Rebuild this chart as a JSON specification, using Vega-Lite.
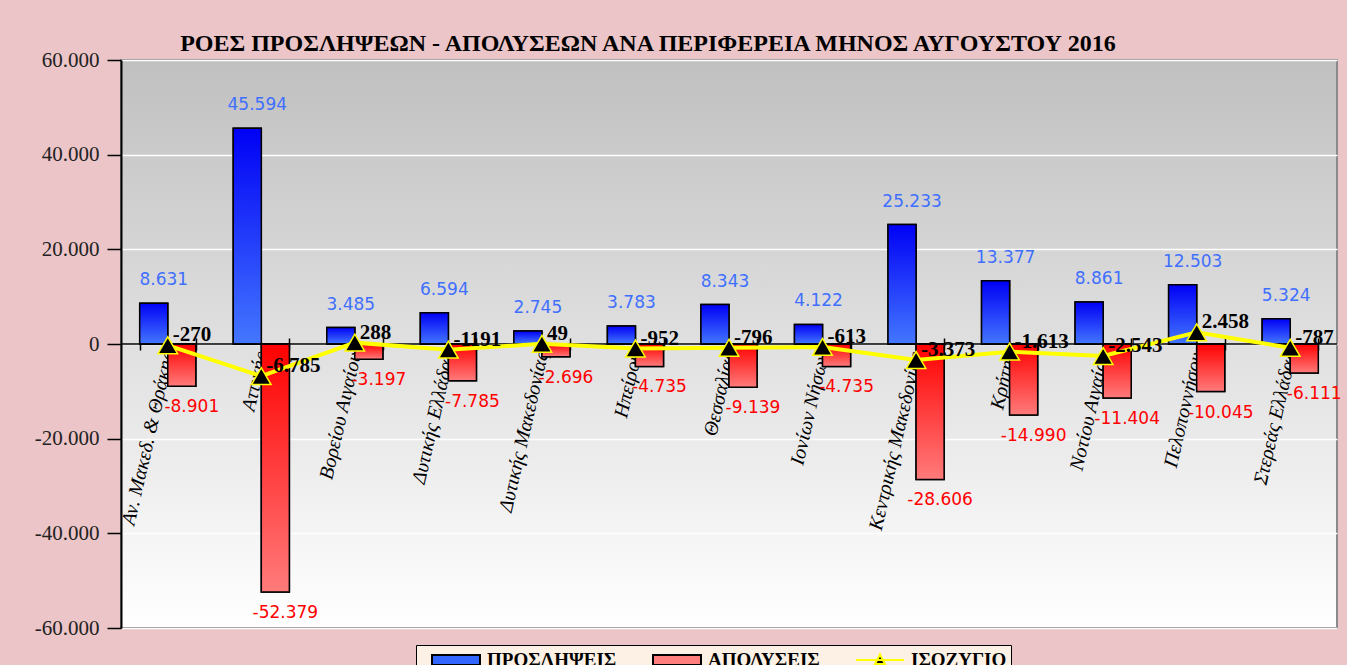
{
  "$schema": "https://vega.github.io/schema/vega-lite/v6.json",
  "width": 1216,
  "height": 568,
  "autosize": {"type": "none"},
  "padding": {"left": 121, "top": 60, "right": 10, "bottom": 37},
  "background": "#ebc5c7",
  "title": {
    "text": "ΡΟΕΣ ΠΡΟΣΛΗΨΕΩΝ - ΑΠΟΛΥΣΕΩΝ ΑΝΑ ΠΕΡΙΦΕΡΕΙΑ ΜΗΝΟΣ  ΑΥΓΟΥΣΤΟΥ  2016",
    "anchor": "middle",
    "frame": "group",
    "dx": -81,
    "offset": -7,
    "font": "Liberation Serif",
    "fontSize": 24,
    "fontWeight": "bold",
    "color": "black"
  },
  "data": {
    "values": [
      {"region": "Αν. Μακεδ. & Θράκης", "ΠΡΟΣΛΗΨΕΙΣ": 8631, "ΑΠΟΛΥΣΕΙΣ": -8901, "ΙΣΟΖΥΓΙΟ": -270, "balanceText": "-270"},
      {"region": "Αττικής", "ΠΡΟΣΛΗΨΕΙΣ": 45594, "ΑΠΟΛΥΣΕΙΣ": -52379, "ΙΣΟΖΥΓΙΟ": -6785, "balanceText": "-6.785"},
      {"region": "Βορείου Αιγαίου", "ΠΡΟΣΛΗΨΕΙΣ": 3485, "ΑΠΟΛΥΣΕΙΣ": -3197, "ΙΣΟΖΥΓΙΟ": 288, "balanceText": "288"},
      {"region": "Δυτικής Ελλάδας", "ΠΡΟΣΛΗΨΕΙΣ": 6594, "ΑΠΟΛΥΣΕΙΣ": -7785, "ΙΣΟΖΥΓΙΟ": -1191, "balanceText": "-1191"},
      {"region": "Δυτικής Μακεδονίας", "ΠΡΟΣΛΗΨΕΙΣ": 2745, "ΑΠΟΛΥΣΕΙΣ": -2696, "ΙΣΟΖΥΓΙΟ": 49, "balanceText": "49"},
      {"region": "Ηπείρου", "ΠΡΟΣΛΗΨΕΙΣ": 3783, "ΑΠΟΛΥΣΕΙΣ": -4735, "ΙΣΟΖΥΓΙΟ": -952, "balanceText": "-952"},
      {"region": "Θεσσαλίας", "ΠΡΟΣΛΗΨΕΙΣ": 8343, "ΑΠΟΛΥΣΕΙΣ": -9139, "ΙΣΟΖΥΓΙΟ": -796, "balanceText": "-796"},
      {"region": "Ιονίων Νήσων", "ΠΡΟΣΛΗΨΕΙΣ": 4122, "ΑΠΟΛΥΣΕΙΣ": -4735, "ΙΣΟΖΥΓΙΟ": -613, "balanceText": "-613"},
      {"region": "Κεντρικής Μακεδονίας", "ΠΡΟΣΛΗΨΕΙΣ": 25233, "ΑΠΟΛΥΣΕΙΣ": -28606, "ΙΣΟΖΥΓΙΟ": -3373, "balanceText": "-3.373"},
      {"region": "Κρήτης", "ΠΡΟΣΛΗΨΕΙΣ": 13377, "ΑΠΟΛΥΣΕΙΣ": -14990, "ΙΣΟΖΥΓΙΟ": -1613, "balanceText": "-1.613"},
      {"region": "Νοτίου Αιγαίου", "ΠΡΟΣΛΗΨΕΙΣ": 8861, "ΑΠΟΛΥΣΕΙΣ": -11404, "ΙΣΟΖΥΓΙΟ": -2543, "balanceText": "-2.543"},
      {"region": "Πελοποννήσου", "ΠΡΟΣΛΗΨΕΙΣ": 12503, "ΑΠΟΛΥΣΕΙΣ": -10045, "ΙΣΟΖΥΓΙΟ": 2458, "balanceText": "2.458"},
      {"region": "Στερεάς Ελλάδας", "ΠΡΟΣΛΗΨΕΙΣ": 5324, "ΑΠΟΛΥΣΕΙΣ": -6111, "ΙΣΟΖΥΓΙΟ": -787, "balanceText": "-787"}
    ]
  },
  "transform": [
    {"fold": ["ΠΡΟΣΛΗΨΕΙΣ", "ΑΠΟΛΥΣΕΙΣ", "ΙΣΟΖΥΓΙΟ"], "as": ["series", "value"]}
  ],
  "encoding": {
    "y": {
      "field": "value",
      "type": "quantitative",
      "title": null,
      "scale": {"domain": [-60000, 60000], "nice": false, "zero": false},
      "axis": {
        "values": [-60000, -40000, -20000, 0, 20000, 40000, 60000],
        "format": ",.0f",
        "labelFont": "Liberation Serif",
        "labelFontSize": 21,
        "labelColor": "#222222",
        "labelPadding": 8,
        "tickSize": 14,
        "tickColor": "black",
        "tickWidth": 1.5,
        "domainColor": "black",
        "domainWidth": 2,
        "grid": true,
        "gridColor": "white",
        "gridWidth": 1.5
      }
    }
  },
  "layer": [
    {
      "transform": [{"filter": "datum.series !== 'ΙΣΟΖΥΓΙΟ'"}],
      "mark": {"type": "bar", "stroke": "black", "strokeWidth": 1.5},
      "encoding": {
        "x": {
          "field": "region", "type": "nominal", "sort": null, "title": null,
          "scale": {"paddingInner": 0.4, "paddingOuter": 0.2},
          "axis": {
            "orient": "bottom",
            "offset": -290,
            "domain": false,
            "ticks": true,
            "tickBand": "extent",
            "tickSize": 12,
            "tickColor": "black",
            "tickWidth": 1.5,
            "labelAngle": 283,
            "labelAlign": "right",
            "labelBaseline": "middle",
            "labelPadding": 2,
            "labelFont": "Liberation Serif",
            "labelFontStyle": "italic",
            "labelFontSize": 20,
            "labelColor": "black",
            "labelOverlap": false,
            "labelLimit": 300
          }
        },
        "xOffset": {"field": "series", "type": "nominal", "sort": ["ΠΡΟΣΛΗΨΕΙΣ", "ΑΠΟΛΥΣΕΙΣ"], "scale": {"domain": ["ΠΡΟΣΛΗΨΕΙΣ", "ΑΠΟΛΥΣΕΙΣ"]}},
        "color": {
          "field": "series",
          "type": "nominal",
          "scale": {"domain": ["ΠΡΟΣΛΗΨΕΙΣ", "ΑΠΟΛΥΣΕΙΣ", "ΙΣΟΖΥΓΙΟ"], "range": ["#3366ff", "#ff7f7f", "black"]},
          "legend": {
            "title": null,
            "orient": "none",
            "legendX": 295,
            "legendY": 585,
            "direction": "horizontal",
            "labelFont": "Liberation Serif",
            "labelFontWeight": "bold",
            "labelFontSize": 19,
            "labelColor": "black",
            "symbolSize": 400,
            "symbolOffset": 25,
            "labelOffset": 20,
            "columnPadding": 24,
            "padding": 4,
            "fillColor": "#fcf1e4",
            "strokeColor": "black",
            "symbolStrokeWidth": 2,
            "symbolOpacity": 1
          }
        }
      }
    },
    {
      "transform": [{"filter": "datum.series === 'ΙΣΟΖΥΓΙΟ'"}],
      "mark": {"type": "point", "size": 0, "filled": true, "opacity": 1},
      "encoding": {
        "x": {"field": "region", "type": "nominal", "sort": null},
        "shape": {
          "field": "series", "type": "nominal",
          "scale": {"domain": ["ΠΡΟΣΛΗΨΕΙΣ", "ΑΠΟΛΥΣΕΙΣ", "ΙΣΟΖΥΓΙΟ"], "range": ["M-2.4,-0.5H2.4V0.5H-2.4Z", "M-2.4,-0.5H2.4V0.5H-2.4Z", "M-2.4,0H2.4M0,-0.55L0.5,0.4H-0.5Z"]},
          "legend": {
            "title": null,
            "orient": "none",
            "legendX": 295,
            "legendY": 585,
            "direction": "horizontal",
            "labelFont": "Liberation Serif",
            "labelFontWeight": "bold",
            "labelFontSize": 19,
            "labelColor": "black",
            "symbolSize": 400,
            "symbolOffset": 25,
            "labelOffset": 20,
            "columnPadding": 24,
            "padding": 4,
            "fillColor": "#fcf1e4",
            "strokeColor": "black",
            "symbolStrokeWidth": 2,
            "symbolOpacity": 1
          }
        },
        "stroke": {
          "field": "series", "type": "nominal",
          "scale": {"domain": ["ΠΡΟΣΛΗΨΕΙΣ", "ΑΠΟΛΥΣΕΙΣ", "ΙΣΟΖΥΓΙΟ"], "range": ["black", "black", "#ffff00"]},
          "legend": {
            "title": null,
            "orient": "none",
            "legendX": 295,
            "legendY": 585,
            "direction": "horizontal",
            "labelFont": "Liberation Serif",
            "labelFontWeight": "bold",
            "labelFontSize": 19,
            "labelColor": "black",
            "symbolSize": 400,
            "symbolOffset": 25,
            "labelOffset": 20,
            "columnPadding": 24,
            "padding": 4,
            "fillColor": "#fcf1e4",
            "strokeColor": "black",
            "symbolStrokeWidth": 2,
            "symbolOpacity": 1
          }
        }
      }
    },
    {
      "transform": [{"filter": "datum.series === 'ΠΡΟΣΛΗΨΕΙΣ'"}],
      "mark": {
        "type": "bar", "stroke": "black", "strokeWidth": 1.5,
        "fill": {"gradient": "linear", "x1": 0, "y1": 0, "x2": 0, "y2": 1, "stops": [{"offset": 0, "color": "#0000f5"}, {"offset": 1, "color": "#4477ff"}]}
      },
      "encoding": {
        "x": {"field": "region", "type": "nominal", "sort": null},
        "xOffset": {"field": "series", "type": "nominal", "sort": ["ΠΡΟΣΛΗΨΕΙΣ", "ΑΠΟΛΥΣΕΙΣ"], "scale": {"domain": ["ΠΡΟΣΛΗΨΕΙΣ", "ΑΠΟΛΥΣΕΙΣ"]}}
      }
    },
    {
      "transform": [{"filter": "datum.series === 'ΑΠΟΛΥΣΕΙΣ'"}],
      "mark": {
        "type": "bar", "stroke": "black", "strokeWidth": 1.5,
        "fill": {"gradient": "linear", "x1": 0, "y1": 0, "x2": 0, "y2": 1, "stops": [{"offset": 0, "color": "#ff0000"}, {"offset": 1, "color": "#ff7b7b"}]}
      },
      "encoding": {
        "x": {"field": "region", "type": "nominal", "sort": null},
        "xOffset": {"field": "series", "type": "nominal", "sort": ["ΠΡΟΣΛΗΨΕΙΣ", "ΑΠΟΛΥΣΕΙΣ"], "scale": {"domain": ["ΠΡΟΣΛΗΨΕΙΣ", "ΑΠΟΛΥΣΕΙΣ"]}}
      }
    },
    {
      "data": {"values": [{"zero": 0}]},
      "mark": {"type": "rule", "color": "black", "strokeWidth": 1.5},
      "encoding": {"y": {"field": "zero", "type": "quantitative"}}
    },
    {
      "transform": [{"filter": "datum.series === 'ΙΣΟΖΥΓΙΟ'"}],
      "mark": {"type": "line", "color": "#ffff00", "strokeWidth": 4},
      "encoding": {"x": {"field": "region", "type": "nominal", "sort": null}}
    },
    {
      "transform": [{"filter": "datum.series === 'ΙΣΟΖΥΓΙΟ'"}],
      "mark": {"type": "point", "shape": "triangle-up", "filled": true, "fill": "black", "stroke": "#ffff00", "strokeWidth": 1.5, "size": 380, "opacity": 1},
      "encoding": {"x": {"field": "region", "type": "nominal", "sort": null}}
    },
    {
      "transform": [{"filter": "datum.series === 'ΠΡΟΣΛΗΨΕΙΣ'"}],
      "mark": {"type": "text", "font": "DejaVu Sans", "fontSize": 17, "color": "#3f6fff", "baseline": "middle", "align": "center", "dx": 10, "dy": -23},
      "encoding": {
        "x": {"field": "region", "type": "nominal", "sort": null},
        "xOffset": {"field": "series", "type": "nominal", "sort": ["ΠΡΟΣΛΗΨΕΙΣ", "ΑΠΟΛΥΣΕΙΣ"], "scale": {"domain": ["ΠΡΟΣΛΗΨΕΙΣ", "ΑΠΟΛΥΣΕΙΣ"]}},
        "text": {"field": "value", "type": "quantitative", "format": ",.0f"}
      }
    },
    {
      "transform": [{"filter": "datum.series === 'ΑΠΟΛΥΣΕΙΣ'"}],
      "mark": {"type": "text", "font": "DejaVu Sans", "fontSize": 17, "color": "#ff0000", "baseline": "middle", "align": "center", "dx": 10, "dy": 21},
      "encoding": {
        "x": {"field": "region", "type": "nominal", "sort": null},
        "xOffset": {"field": "series", "type": "nominal", "sort": ["ΠΡΟΣΛΗΨΕΙΣ", "ΑΠΟΛΥΣΕΙΣ"], "scale": {"domain": ["ΠΡΟΣΛΗΨΕΙΣ", "ΑΠΟΛΥΣΕΙΣ"]}},
        "text": {"field": "value", "type": "quantitative", "format": ",.0f"}
      }
    },
    {
      "transform": [{"filter": "datum.series === 'ΙΣΟΖΥΓΙΟ'"}],
      "mark": {"type": "text", "font": "Liberation Serif", "fontSize": 21, "fontWeight": "bold", "color": "black", "baseline": "middle", "align": "left", "dx": 5, "dy": -10},
      "encoding": {
        "x": {"field": "region", "type": "nominal", "sort": null},
        "text": {"field": "balanceText", "type": "nominal"}
      }
    }
  ],
  "config": {
    "locale": {"number": {"decimal": ",", "thousands": ".", "grouping": [3], "currency": ["", " €"], "minus": "-"}},
    "view": {
      "stroke": "#8a8a8a",
      "strokeWidth": 2,
      "fill": {"gradient": "linear", "x1": 0, "y1": 0, "x2": 0, "y2": 1, "stops": [{"offset": 0, "color": "#c0c0c0"}, {"offset": 1, "color": "#ffffff"}]}
    }
  }
}
